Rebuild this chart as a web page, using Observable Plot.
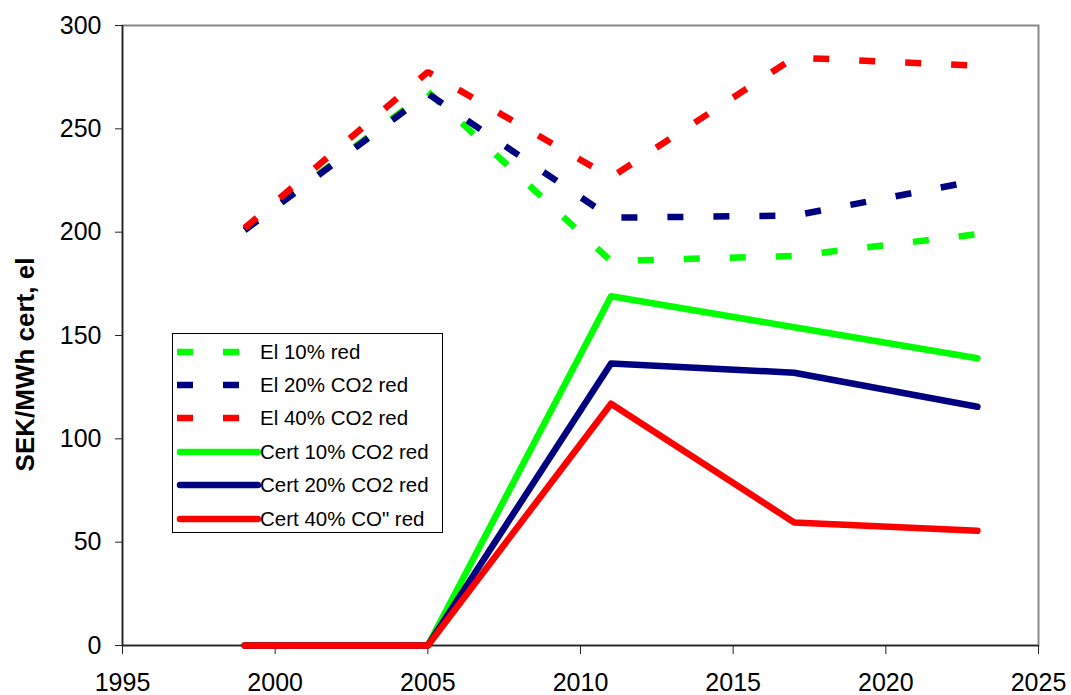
<!DOCTYPE html>
<html>
<head>
<meta charset="utf-8">
<script src="https://cdn.jsdelivr.net/npm/d3@7"></script>
<script src="https://cdn.jsdelivr.net/npm/@observablehq/plot@0.6"></script>
<style>
  html, body { margin: 0; padding: 0; background: #fff; }
  #wrap { position: relative; width: 1071px; height: 695px; font-family: "Liberation Sans", Arial, sans-serif; }
  #legend { position: absolute; left: 172px; top: 333px; width: 271px; height: 200px; border: 1px solid #000; background: #fff; box-sizing: border-box; }
  .row { position: absolute; left: 2px; height: 20px; display: flex; align-items: center; }
  .row span { font-size: 20.5px; color: #000; margin-left: -1px; white-space: nowrap; }
</style>
</head>
<body>
<div id="wrap"><div id="legend"></div></div>
<script>
const years = [1999, 2005, 2011, 2017, 2023];
const el10 = [201, 268, 186, 188.5, 199];
const el20 = [201, 267, 207, 208, 225];
const el40 = [202, 277.5, 226.5, 284.5, 280.5];
const cert10 = [0, 0, 169, 154, 139];
const cert20 = [0, 0, 136.5, 132, 115.5];
const cert40 = [0, 0, 117, 59.5, 55.5];

const seriesNames = ["El 10% red", "El 20% CO2 red", "El 40% CO2 red", "Cert 10% CO2 red", "Cert 20% CO2 red", "Cert 40% CO\" red"];
const seriesValues = [el10, el20, el40, cert10, cert20, cert40];
const seriesColors = ["#00ff00", "#000080", "#ff0000", "#00ff00", "#000080", "#ff0000"];
const seriesDashed = [true, true, true, false, false, false];

const xTicks = [1995, 2000, 2005, 2010, 2015, 2020, 2025];
const yTicks = [0, 50, 100, 150, 200, 250, 300];
const yTitle = "SEK/MWh cert, el";

const rows = [];
seriesNames.forEach((name, i) => {
  seriesValues[i].forEach((v, j) => rows.push({series: name, idx: i, year: years[j], value: v}));
});

const lineMarks = seriesNames.map((name, i) => Plot.line(rows.filter(r => r.idx === i), {
  x: "year", y: "value",
  stroke: seriesColors[i],
  strokeWidth: 6.5,
  strokeDasharray: seriesDashed[i] ? "16,30" : null,
  strokeLinecap: seriesDashed[i] ? "butt" : "round",
  strokeLinejoin: seriesDashed[i] ? "miter" : "round"
}));

const chart = Plot.plot({
  width: 1071,
  height: 695,
  marginLeft: 122,
  marginRight: 33,
  marginTop: 25,
  marginBottom: 50,
  style: {fontFamily: "Liberation Sans, Arial, sans-serif", fontSize: "25px", background: "#fff", color: "#000", overflow: "visible"},
  x: {domain: [1995, 2025]},
  y: {domain: [0, 300]},
  marks: [
    Plot.frame({stroke: "#888", strokeWidth: 2}),
    Plot.ruleY([0], {stroke: "#222", strokeWidth: 1.5}),
    Plot.ruleX([1995], {stroke: "#222", strokeWidth: 1.5}),
    Plot.axisX({ticks: xTicks, tickFormat: d => String(d), tickSize: 9, tickPadding: 19, label: null, fontSize: 25, stroke: "#222"}),
    Plot.axisY({ticks: yTicks, tickFormat: d => String(d), tickSize: 7, tickPadding: 14, label: null, fontSize: 25, stroke: "#222"}),
    ...lineMarks,
    Plot.text([yTitle], {frameAnchor: "left", textAnchor: "middle", dx: -97, dy: 29, rotate: -90, fontWeight: "bold", fontSize: 26, fill: "#000"})
  ]
});
const wrap = document.getElementById("wrap");
wrap.insertBefore(chart, wrap.firstChild);

// legend
const legend = document.getElementById("legend");
seriesNames.forEach((name, i) => {
  const row = document.createElement("div");
  row.className = "row";
  row.style.top = (7.5 + i * 33.4) + "px";
  const svg = d3.create("svg").attr("width", 86).attr("height", 20);
  svg.append("line")
    .attr("x1", seriesDashed[i] ? 2 : 5).attr("x2", 83).attr("y1", 10).attr("y2", 10)
    .attr("stroke", seriesColors[i]).attr("stroke-width", 6.5)
    .attr("stroke-dasharray", seriesDashed[i] ? "16,30" : null)
    .attr("stroke-linecap", seriesDashed[i] ? "butt" : "round");
  row.appendChild(svg.node());
  const sp = document.createElement("span");
  sp.textContent = name;
  row.appendChild(sp);
  legend.appendChild(row);
});
</script>
</body>
</html>
